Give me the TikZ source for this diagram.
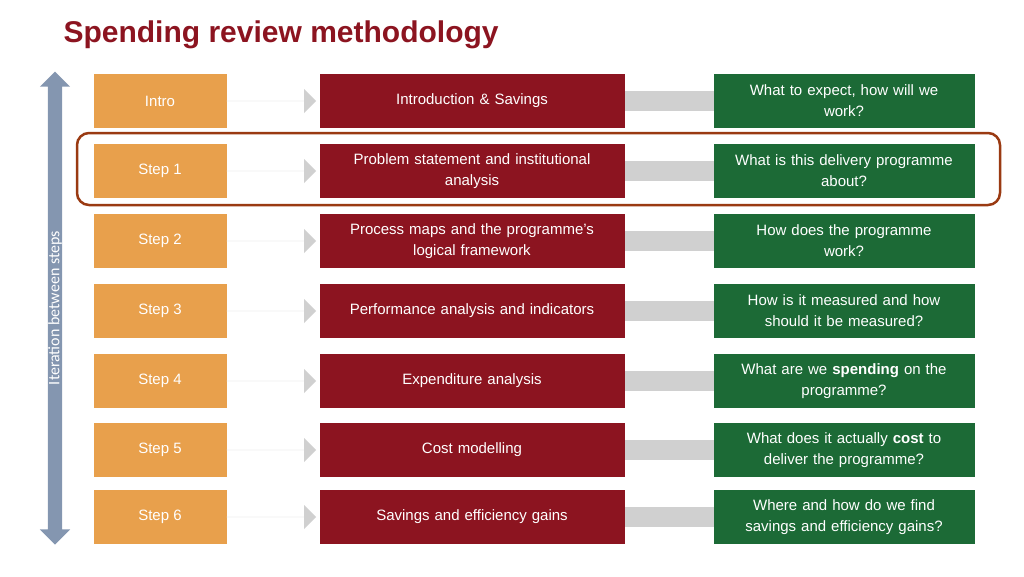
\documentclass[tikz,border=0pt]{standalone}
\usepackage{fontspec}
\setmainfont{Liberation Sans}
\newfontfamily\calib{Carlito}
\usetikzlibrary{shapes.arrows, positioning}
\definecolor{morange}{HTML}{E8A04C}
\definecolor{mred}{HTML}{8C1420}
\definecolor{mgreen}{HTML}{1C6A36}
\definecolor{mgray}{HTML}{D0D0D0}
\definecolor{mslate}{HTML}{8496B0}
\definecolor{mframe}{HTML}{9A3A12}
\tikzstyle{stepbox} = [rectangle, minimum width=133pt, minimum height=54pt, inner sep=0pt, text=white, fill=morange, font=\fontsize{15}{18}\selectfont]
\tikzstyle{topic} = [rectangle, minimum width=305pt, minimum height=54pt, inner sep=0pt, text width=290pt, align=center, text=white, fill=mred, font=\fontsize{15}{21}\selectfont]
\tikzstyle{question} = [rectangle, minimum width=261pt, minimum height=54pt, inner sep=0pt, text width=250pt, align=center, text=white, fill=mgreen, font=\fontsize{15}{21}\selectfont]
\tikzstyle{push} = [single arrow, fill=mgray, minimum width=24pt, single arrow head extend=10pt, minimum height=90pt, inner sep=0pt]
\tikzstyle{bar} = [fill=mgray, minimum height=20pt, minimum width=89pt, inner sep=0pt]
\begin{document}
\begin{tikzpicture}[x=1pt, y=-1pt]
\useasboundingbox (0,0) rectangle (1024,576);
\node[anchor=west, text=mred, font=\bfseries\fontsize{30}{36}\selectfont] (title) at (60,35) {Spending review methodology};
\node (iter) [double arrow, rotate=90, fill=mslate, minimum width=28pt, double arrow head extend=8pt, minimum height=473pt, inner sep=0pt, text=white, font=\calib\fontsize{16}{18}\selectfont] at (55,308) {Iteration between steps};
\foreach \y/\s/\t/\q [count=\i] in {
  101/Intro/Introduction \& Savings/{What to expect, how will we\\work?},
  171/Step 1/{Problem statement and institutional\\analysis}/{What is this delivery programme\\about?},
  241/Step 2/{Process maps and the programme’s\\logical framework}/{How does the programme\\work?},
  311/Step 3/Performance analysis and indicators/{How is it measured and how\\should it be measured?},
  381/Step 4/Expenditure analysis/{What are we \textbf{spending} on the\\programme?},
  450/Step 5/Cost modelling/{What does it actually \textbf{cost} to\\deliver the programme?},
  517/Step 6/Savings and efficiency gains/{Where and how do we find\\savings and efficiency gains?}}{
  \node (s\i) [stepbox] at (160,\y) {\s};
  \node (t\i) [topic] at (472,\y) {\t};
  \node (q\i) [question] at (844,\y) {\q};
  \node (a\i) [push] at (271,\y) {};
  \node (b\i) [bar] at (669.5,\y) {};
}
\draw[mframe, line width=2.5pt, rounded corners=12pt] (77,133) rectangle (1000,205);
\end{tikzpicture}
\end{document}
